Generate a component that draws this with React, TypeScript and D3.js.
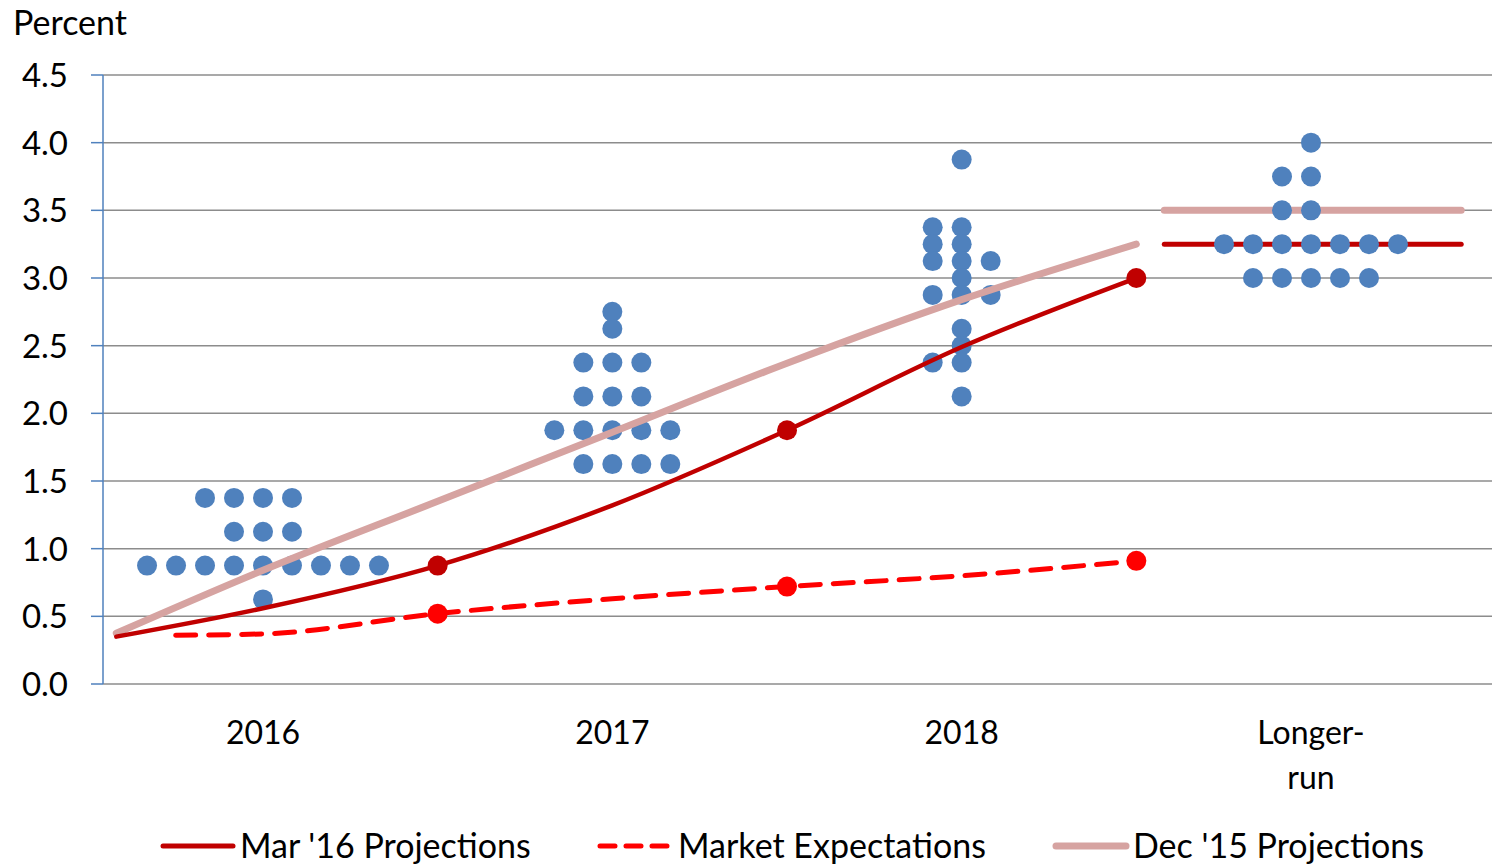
import React from "react";
import * as d3 from "d3";

const W = 1492;
const H = 864;

const categories = ["2016", "2017", "2018", "Longer-run"];
const categoryPos = [2016, 2017, 2018, 2019];
const yTicks = [0, 0.5, 1, 1.5, 2, 2.5, 3, 3.5, 4, 4.5];

// dot plot rows: value, first column offset, number of dots
const dots2016 = [
  { v: 1.375, start: -2, n: 4 },
  { v: 1.125, start: -1, n: 3 },
  { v: 0.875, start: -4, n: 9 },
  { v: 0.625, start: 0, n: 1 },
];
const dots2017 = [
  { v: 2.75, start: 0, n: 1 },
  { v: 2.625, start: 0, n: 1 },
  { v: 2.375, start: -1, n: 3 },
  { v: 2.125, start: -1, n: 3 },
  { v: 1.875, start: -2, n: 5 },
  { v: 1.625, start: -1, n: 4 },
];
const dots2018 = [
  { v: 3.875, start: 0, n: 1 },
  { v: 3.375, start: -1, n: 2 },
  { v: 3.25, start: -1, n: 2 },
  { v: 3.125, start: -1, n: 3 },
  { v: 3.0, start: 0, n: 1 },
  { v: 2.875, start: -1, n: 3 },
  { v: 2.625, start: 0, n: 1 },
  { v: 2.5, start: 0, n: 1 },
  { v: 2.375, start: -1, n: 2 },
  { v: 2.125, start: 0, n: 1 },
];
const dotsLonger = [
  { v: 4.0, start: 0, n: 1 },
  { v: 3.75, start: -1, n: 2 },
  { v: 3.5, start: -1, n: 2 },
  { v: 3.25, start: -3, n: 7 },
  { v: 3.0, start: -2, n: 5 },
];
const dotGroups = [dots2016, dots2017, dots2018, dotsLonger];

// lines (x in year units)
const mar16X = [2015.58, 2016, 2016.5, 2017, 2017.5, 2018, 2018.5];
const mar16Y = [0.35, 0.56, 0.875, 1.32, 1.875, 2.49, 3.0];
const mar16MarkerX = [2016.5, 2017.5, 2018.5];
const mar16MarkerY = [0.875, 1.875, 3.0];

const marketX = [2015.75, 2016, 2016.5, 2017, 2017.5, 2018, 2018.5];
const marketY = [0.36, 0.37, 0.52, 0.63, 0.72, 0.8, 0.91];
const marketMarkerX = [2016.5, 2017.5, 2018.5];
const marketMarkerY = [0.52, 0.72, 0.91];

const dec15X = [2015.58, 2016, 2016.5, 2017, 2017.5, 2018, 2018.5];
const dec15Y = [0.375, 0.84, 1.35, 1.86, 2.37, 2.84, 3.25];

const longerRunX = [2018.58, 2019.43];
const longerMar16 = 3.25;
const longerDec15 = 3.5;

const legendItems = ["Mar '16 Projections", "Market Expectations", "Dec '15 Projections"];

const BLUE = "#4F81BD";
const DARKRED = "#C00000";
const RED = "#FF0000";
const PINK = "#D6A3A1";
const GRID = "#8C8C8C";
const FONT = "Lato, 'Open Sans', sans-serif";

export default function App() {
  const left = 103;
  const right = 1492;
  const top = 75;
  const bottom = 684;

  const x = d3.scaleLinear().domain([2016, 2019]).range([263, 1311]);
  const y = d3.scaleLinear().domain([0, 4.5]).range([bottom, top]);
  const step = (x(2017) - x(2016)) / 12.05; // dot spacing ~29px

  const line = d3
    .line<[number, number]>()
    .x((d) => x(d[0]))
    .y((d) => y(d[1]))
    .curve(d3.curveMonotoneX);

  const mar16 = line(mar16X.map((v, i) => [v, mar16Y[i]] as [number, number]));
  const market = line(marketX.map((v, i) => [v, marketY[i]] as [number, number]));
  const dec15 = line(dec15X.map((v, i) => [v, dec15Y[i]] as [number, number]));

  const dots: { cx: number; cy: number }[] = [];
  dotGroups.forEach((g, gi) => {
    g.forEach((row) => {
      for (let k = 0; k < row.n; k++) {
        dots.push({ cx: x(categoryPos[gi]) + (row.start + k) * step, cy: y(row.v) });
      }
    });
  });

  const legendLineX = [163, 600, 1056];
  const legendTextX = [240, 678, 1133];
  const legendY = 846;

  return (
    <svg width={W} height={H} style={{ position: "absolute", left: 0, top: 0, background: "#fff" }}>
      {/* gridlines */}
      {yTicks.map((t) => (
        <line key={"g" + t} x1={left} x2={right} y1={y(t)} y2={y(t)} stroke={GRID} strokeWidth={1.5} />
      ))}
      {/* y axis */}
      <line x1={left} x2={left} y1={top} y2={bottom} stroke={BLUE} strokeWidth={1.5} />
      {yTicks.map((t) => (
        <line key={"t" + t} x1={91} x2={left} y1={y(t)} y2={y(t)} stroke={BLUE} strokeWidth={1.5} />
      ))}
      {yTicks.map((t) => (
        <text
          key={"l" + t}
          x={68}
          y={y(t)}
          dy="0.36em"
          textAnchor="end"
          fontFamily={FONT}
          fontSize={33}
          fill="#000"
        >
          {d3.format(".1f")(t)}
        </text>
      ))}
      <text x={13} y={35} fontFamily={FONT} fontSize={34} fill="#000">
        Percent
      </text>

      {/* x labels */}
      {categories.map((c, i) =>
        c === "Longer-run" ? (
          <text key={c} x={x(categoryPos[i])} y={744} textAnchor="middle" fontFamily={FONT} fontSize={32}>
            <tspan x={x(categoryPos[i])}>Longer-</tspan>
            <tspan x={x(categoryPos[i])} dy={45}>
              run
            </tspan>
          </text>
        ) : (
          <text key={c} x={x(categoryPos[i])} y={744} textAnchor="middle" fontFamily={FONT} fontSize={32}>
            {c}
          </text>
        )
      )}

      {/* longer-run lines */}
      <line
        x1={x(longerRunX[0])}
        x2={x(longerRunX[1])}
        y1={y(longerDec15)}
        y2={y(longerDec15)}
        stroke={PINK}
        strokeWidth={7}
        strokeLinecap="round"
      />
      <line
        x1={x(longerRunX[0])}
        x2={x(longerRunX[1])}
        y1={y(longerMar16)}
        y2={y(longerMar16)}
        stroke={DARKRED}
        strokeWidth={5}
        strokeLinecap="round"
      />

      {/* dots */}
      {dots.map((d, i) => (
        <circle key={"d" + i} cx={d.cx} cy={d.cy} r={10} fill={BLUE} />
      ))}

      {/* trend lines */}
      <path d={dec15 || ""} fill="none" stroke={PINK} strokeWidth={7} strokeLinecap="round" />
      <path d={mar16 || ""} fill="none" stroke={DARKRED} strokeWidth={4.5} strokeLinecap="round" />
      <path
        d={market || ""}
        fill="none"
        stroke={RED}
        strokeWidth={5}
        strokeDasharray="20 13"
        strokeLinecap="round"
      />
      {mar16MarkerX.map((v, i) => (
        <circle key={"m" + i} cx={x(v)} cy={y(mar16MarkerY[i])} r={10} fill={DARKRED} />
      ))}
      {marketMarkerX.map((v, i) => (
        <circle key={"k" + i} cx={x(v)} cy={y(marketMarkerY[i])} r={10} fill={RED} />
      ))}

      {/* legend */}
      {legendItems.map((name, i) => {
        const lx = legendLineX[i];
        const color = i === 0 ? DARKRED : i === 1 ? RED : PINK;
        return (
          <g key={name}>
            <line
              x1={lx}
              x2={lx + 70}
              y1={legendY}
              y2={legendY}
              stroke={color}
              strokeWidth={i === 2 ? 7 : 5}
              strokeLinecap="round"
              strokeDasharray={i === 1 ? "15 11" : undefined}
            />
            <text x={legendTextX[i]} y={legendY} dy="0.36em" fontFamily={FONT} fontSize={34}>
              {name}
            </text>
          </g>
        );
      })}
    </svg>
  );
}
